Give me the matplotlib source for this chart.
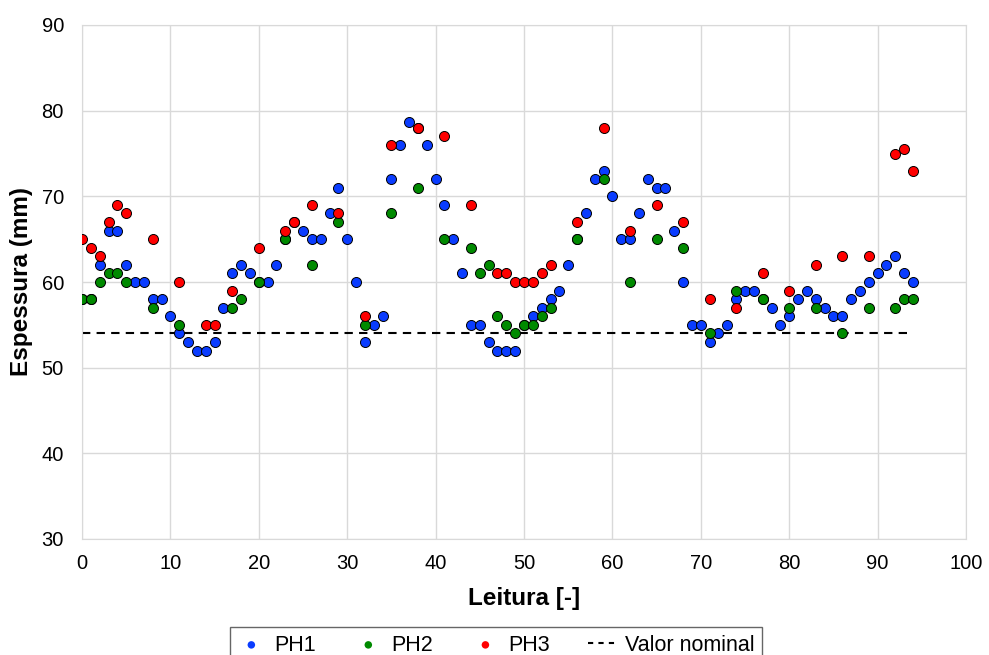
import numpy as np
import matplotlib.pyplot as plt

plt.rcParams['font.family'] = ['Liberation Sans', 'DejaVu Sans']

# Readings 0..94
leitura = np.arange(95)

ph1 = [58, 58, 62, 66, 66, 62, 60, 60, 58, 58,
       56, 54, 53, 52, 52, 53, 57, 61, 62, 61,
       60, 60, 62, 65, 67, 66, 65, 65, 68, 71,
       65, 60, 53, 55, 56, 72, 76, 78.7, 78, 76,
       72, 69, 65, 61, 55, 55, 53, 52, 52, 52,
       55, 56, 57, 58, 59, 62, 65, 68, 72, 73,
       70, 65, 65, 68, 72, 71, 71, 66, 60, 55,
       55, 53, 54, 55, 58, 59, 59, 58, 57, 55,
       56, 58, 59, 58, 57, 56, 56, 58, 59, 60,
       61, 62, 63, 61, 60]

ph2_x = [0, 1, 2, 3, 4, 5, 8, 11, 17, 18, 20, 23, 26, 29, 32, 35, 38, 41,
         44, 45, 46, 47, 48, 49, 50, 51, 52, 53, 56, 59, 62, 65, 68, 71,
         74, 77, 80, 83, 86, 89, 92, 93, 94]
ph2 = [58, 58, 60, 61, 61, 60, 57, 55, 57, 58, 60, 65, 62, 67, 55, 68, 71, 65,
       64, 61, 62, 56, 55, 54, 55, 55, 56, 57, 65, 72, 60, 65, 64, 54,
       59, 58, 57, 57, 54, 57, 57, 58, 58]

ph3_x = [0, 1, 2, 3, 4, 5, 8, 11, 14, 15, 17, 20, 23, 24, 26, 29, 32, 35, 38,
         41, 44, 47, 48, 49, 50, 51, 52, 53, 56, 59, 62, 65, 68, 71, 74, 77,
         80, 83, 86, 89, 92, 93, 94]
ph3 = [65, 64, 63, 67, 69, 68, 65, 60, 55, 55, 59, 64, 66, 67, 69, 68, 56, 76, 78,
       77, 69, 61, 61, 60, 60, 60, 61, 62, 67, 78, 66, 69, 67, 58, 57, 61,
       59, 62, 63, 63, 75, 75.5, 73]

valor_nominal = 54

fig = plt.figure(figsize=(9.89, 6.55), dpi=100)
ax = fig.add_axes([82 / 989, 1 - 539 / 655, (966 - 82) / 989, (539 - 25) / 655])

mk = dict(s=52, edgecolors='black', linewidths=0.7, zorder=3)
ax.scatter(leitura, ph1, color='#0A3CFF', label='PH1', **mk)
ax.scatter(ph2_x, ph2, color='#008A00', label='PH2', **mk)
ax.scatter(ph3_x, ph3, color='#FF0000', label='PH3', **mk)
ax.plot([leitura[0], leitura[-1]], [valor_nominal, valor_nominal],
        color='black', linestyle=(0, (4, 3)), linewidth=1.5,
        label='Valor nominal', zorder=2)

ax.set_xlim(0, 100)
ax.set_ylim(30, 90)
ax.set_xticks(range(0, 101, 10))
ax.set_yticks(range(30, 91, 10))
ax.grid(True, color='#D9D9D9', linewidth=1)
ax.set_axisbelow(True)
for sp in ax.spines.values():
    sp.set_color('#D9D9D9')
ax.tick_params(axis='x', length=0, labelsize=14.5, pad=11)
ax.tick_params(axis='y', length=0, labelsize=14.5, pad=13)

ax.set_xlabel('Leitura [-]', fontsize=17.5, fontweight='bold', labelpad=10)
ax.set_ylabel('Espessura (mm)', fontsize=17.5, fontweight='bold', labelpad=6)

# legend sits below the axes, its lower edge runs past the figure border
leg = fig.legend(loc='upper center', bbox_to_anchor=(0.5015, 1 - 627 / 655),
                 borderaxespad=0, ncol=4, frameon=True, fancybox=False,
                 edgecolor='#404040', fontsize=15.5, markerscale=0.75,
                 handlelength=1.3, handletextpad=0.4, columnspacing=1.8,
                 borderpad=0.35)
leg.get_frame().set_linewidth(1.0)
for h in leg.legend_handles[:3]:
    h.set_edgecolor('none')
leg.legend_handles[3].set_linestyle((0, (2.5, 2.5)))

fig.savefig('out.png', dpi=100)
